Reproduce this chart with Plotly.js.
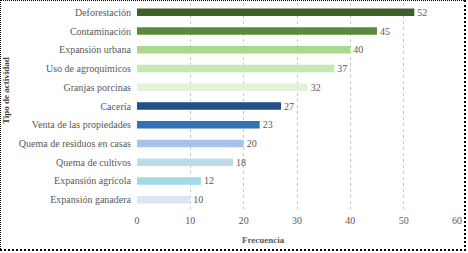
<!DOCTYPE html>
<html>
<head>
<meta charset="utf-8">
<script src="https://cdn.plot.ly/plotly-3.0.1.min.js"></script>
<style>
html,body{margin:0;padding:0;background:#fff;}
#wrap{position:relative;width:468px;height:253px;}
#chart{width:468px;height:253px;}
#chart svg text{font-family:"Liberation Serif","Times New Roman",serif !important;}
#frame{position:absolute;left:0;top:0;width:466px;height:251px;border-right:2px dotted #000;border-bottom:2px dotted #000;border-top:1px dotted #000;border-left:1px dotted #000;box-sizing:border-box;pointer-events:none;}
</style>
</head>
<body>
<div id="wrap"><div id="chart"></div><div id="frame"></div></div>
<script>
const categories = ["Deforestación","Contaminación","Expansión urbana","Uso de agroquímicos","Granjas porcinas","Cacería","Venta de las propiedades","Quema de residuos en casas","Quema de cultivos","Expansión agrícola","Expansión ganadera"];
const values = [52,45,40,37,32,27,23,20,18,12,10];
const barColors = ["#3d5f2c","#5b8a3b","#a9d98c","#c4eab2","#e3f3d8","#214f8c","#3172b8","#a4c4ee","#bcdcee","#a2d9e8","#dce5f6"];
const xTicks = [0,10,20,30,40,50,60];
const serif = "Liberation Serif";

const trace = {
  type: "bar",
  orientation: "h",
  y: categories,
  x: values,
  text: values.map(String),
  textposition: "outside",
  constraintext: "none",
  cliponaxis: false,
  textfont: {family: serif, size: 10, color: "#595959"},
  marker: {color: barColors, line: {width: 0}},
  hoverinfo: "none"
};

const layout = {
  width: 468, height: 253,
  margin: {l: 137, r: 11, t: 3, b: 44},
  paper_bgcolor: "#fff", plot_bgcolor: "#fff",
  bargap: 0.6,
  showlegend: false,
  font: {family: serif, color: "#595959", size: 10},
  xaxis: {
    range: [0, 60],
    tickvals: xTicks,
    ticktext: xTicks.map(String),
    showgrid: true, gridcolor: "#c8c8c8", griddash: "dot", gridwidth: 1,
    zeroline: false, showline: false, ticks: "",
    ticklabelstandoff: 4,
    tickfont: {family: serif, size: 10, color: "#595959"},
    fixedrange: true
  },
  yaxis: {
    autorange: "reversed",
    showgrid: false, zeroline: false, showline: false, ticks: "",
    ticklabelstandoff: 5,
    tickfont: {family: serif, size: 10, color: "#595959"},
    fixedrange: true
  },
  annotations: [
    {text: "<b>Frecuencia</b>", xref: "paper", yref: "paper", x: (263-137)/320, y: -(240-209)/206, xanchor: "center", yanchor: "middle", showarrow: false, font: {family: serif, size: 9, color: "#595959"}},
    {text: "<b>Tipo de actividad</b>", xref: "paper", yref: "paper", x: (6-137)/320, y: (209-91)/206, xanchor: "center", yanchor: "middle", textangle: -90, showarrow: false, font: {family: serif, size: 9, color: "#404040"}}
  ]
};

Plotly.newPlot("chart", [trace], layout, {displayModeBar: false, staticPlot: true});
</script>
</body>
</html>
